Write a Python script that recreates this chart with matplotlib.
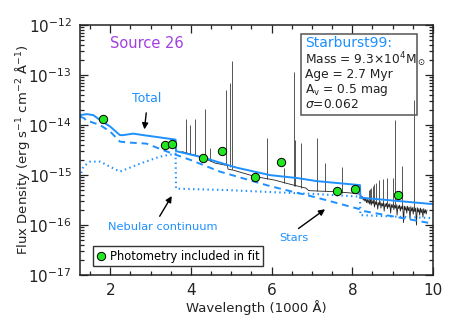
import numpy as np
import matplotlib
matplotlib.use("Agg")
import matplotlib.pyplot as plt
from matplotlib.ticker import FixedLocator, NullFormatter, MultipleLocator
from matplotlib.lines import Line2D
from matplotlib.patches import Rectangle

plt.rcParams['font.family'] = ['DejaVu Sans']
plt.rcParams['mathtext.fontset'] = 'dejavusans'

BLUE = '#1e90ff'
INK = '#222222'

# wavelengths in units of 1000 A, fluxes as log10(erg/s/cm2/A)
total_wl = [1.25, 1.42, 1.58, 1.75, 2.00, 2.24, 2.32, 2.57, 2.82, 3.62, 3.63, 4.31,
            5.13, 5.96, 6.65, 7.12, 8.19, 8.20, 10.0]
total_log = [-13.80, -13.78, -13.80, -13.90, -14.03, -14.20, -14.20, -14.17, -14.20,
             -14.29, -14.52, -14.65, -14.85, -15.00, -15.06, -15.12, -15.20, -15.45, -15.58]

stars_wl = [1.25, 1.35, 1.42, 1.50, 1.75, 2.00, 2.24, 2.49, 2.90, 3.31, 3.65, 4.00,
            4.72, 5.96, 7.12, 8.18, 8.22, 10.0]
stars_log = [-13.83, -13.86, -13.92, -13.93, -14.00, -14.13, -14.33, -14.35, -14.37,
             -14.50, -14.60, -14.70, -14.93, -15.22, -15.45, -15.68, -15.71, -15.97]

neb_wl = [1.25, 1.33, 1.50, 1.75, 1.99, 2.24, 2.74, 3.23, 3.62, 3.63, 4.92, 7.12,
          8.19, 8.20, 10.0]
neb_log = [-15.05, -14.83, -14.73, -14.73, -14.83, -14.93, -14.77, -14.63, -14.57,
           -15.27, -15.30, -15.38, -15.43, -15.80, -15.86]

# observed spectrum: continuum, then the noisy red part
spec_wl = [3.78, 3.95, 4.10, 4.35, 4.60, 4.85, 4.90, 4.92, 5.05, 5.30, 5.60, 6.08,
           6.40, 6.85, 6.92, 7.20, 7.57, 8.00, 8.18,
           8.21, 8.23, 8.25, 8.27, 8.29, 8.31, 8.33, 8.35, 8.37, 8.39, 8.41, 8.43,
           8.45, 8.47, 8.49, 8.51, 8.53, 8.55, 8.57, 8.59, 8.61, 8.63, 8.65, 8.67,
           8.69, 8.71, 8.73, 8.75, 8.77, 8.79, 8.81, 8.83, 8.85, 8.87, 8.89, 8.91,
           8.93, 8.95, 8.97, 8.99, 9.01, 9.03, 9.05, 9.07, 9.09, 9.11, 9.13, 9.15,
           9.17, 9.19, 9.21, 9.23, 9.25, 9.27, 9.29, 9.31, 9.33, 9.35, 9.37, 9.39,
           9.41, 9.43, 9.45, 9.47, 9.49, 9.51, 9.53, 9.55, 9.57, 9.59, 9.61, 9.63,
           9.65, 9.67, 9.69, 9.71, 9.73, 9.75, 9.77, 9.79, 9.81, 9.83, 9.85]
spec_log = [-14.53, -14.57, -14.60, -14.67, -14.76, -14.80, -14.80, -14.88, -14.90,
            -14.96, -15.03, -15.10, -15.17, -15.26, -15.31, -15.32, -15.33, -15.36, -15.38,
            -15.40, -15.46, -15.43, -15.50, -15.45, -15.52, -15.47, -15.55, -15.48, -15.56,
            -15.49, -15.58, -15.50, -15.60, -15.51, -15.57, -15.52, -15.64, -15.53, -15.59,
            -15.54, -15.68, -15.55, -15.60, -15.53, -15.66, -15.56, -15.62, -15.55, -15.72,
            -15.57, -15.63, -15.56, -15.67, -15.58, -15.64, -15.57, -15.76, -15.59, -15.65,
            -15.58, -15.69, -15.60, -15.66, -15.59, -15.80, -15.61, -15.67, -15.60, -15.72,
            -15.62, -15.68, -15.61, -15.95, -15.62, -15.70, -15.63, -15.76, -15.62, -15.71,
            -15.64, -15.88, -15.63, -15.72, -15.65, -15.78, -15.64, -15.73, -15.66, -16.00,
            -15.65, -15.74, -15.67, -15.80, -15.66, -15.75, -15.68, -15.84, -15.67, -15.76,
            -15.69, -15.78, -15.70]

# emission lines: wavelength, base, peak
line_wl = [3.869, 3.889, 3.970, 4.101, 4.340, 4.471, 4.861, 4.959, 5.007, 5.876,
           6.300, 6.563, 6.584, 6.717, 7.136, 7.325, 7.751,
           8.413, 8.438, 8.467, 8.502, 8.545, 8.598, 8.665, 8.750, 8.863, 9.015,
           9.069, 9.229, 9.532]
line_base = [-14.56, -14.56, -14.58, -14.60, -14.67, -14.71, -14.80, -14.84, -14.88,
             -15.07, -15.15, -15.22, -15.22, -15.25, -15.31, -15.32, -15.35,
             -15.50, -15.52, -15.52, -15.53, -15.54, -15.55, -15.56, -15.57, -15.58,
             -15.60, -15.60, -15.62, -15.65]
line_peak = [-13.88, -14.02, -14.00, -13.88, -13.68, -14.46, -13.30, -13.16, -12.72,
             -14.26, -14.86, -12.94, -14.30, -14.36, -14.26, -14.75, -14.84,
             -15.30, -15.28, -15.25, -15.22, -15.17, -15.15, -15.10, -15.07, -15.05,
             -15.05, -13.89, -14.82, -13.49]

phot_wl = [1.82, 3.36, 3.53, 4.31, 4.76, 5.59, 6.23, 7.63, 8.07, 9.13]
phot_log = [-13.88, -14.39, -14.37, -14.65, -14.52, -15.04, -14.74, -15.31, -15.27, -15.40]

f = lambda v: 10.0 ** np.asarray(v)

fig = plt.figure(figsize=(4.57, 3.26), dpi=100)
ax = fig.add_axes([0.175, 0.156, 0.7725, 0.767])

ax.vlines(line_wl, f(line_base), f(line_peak), color='#555555', lw=0.7)
ax.plot(spec_wl, f(spec_log), color=INK, lw=0.6)

ax.plot(total_wl, f(total_log), color=BLUE, lw=1.4)
ax.plot(stars_wl, f(stars_log), color=BLUE, lw=1.4, ls=(0, (3.5, 2.5)))
ax.plot(neb_wl, f(neb_log), color=BLUE, lw=1.5, ls=(0, (0.7, 1.6)))

ax.plot(phot_wl, f(phot_log), 'o', ms=6, mfc='#22e622', mec='black', mew=0.7)

ax.set_xlim(1.25, 10)
ax.set_yscale('log')
ax.set_ylim(1e-17, 1e-12)
ax.xaxis.set_major_locator(MultipleLocator(2))
ax.xaxis.set_minor_locator(MultipleLocator(0.5))
decades = [1e-17, 1e-16, 1e-15, 1e-14, 1e-13, 1e-12]
ax.yaxis.set_major_locator(FixedLocator(decades))
ax.yaxis.set_minor_locator(FixedLocator([m * d for d in decades[:-1] for m in range(2, 10)]))
ax.set_yticklabels(['$10^{-17}$', '$10^{-16}$', '$10^{-15}$', '$10^{-14}$',
                    '$10^{-13}$', '$10^{-12}$'])
ax.yaxis.set_minor_formatter(NullFormatter())
ax.tick_params(which='both', direction='in', top=True, right=True, colors=INK,
               labelsize=11, width=0.9)
ax.tick_params(which='major', length=6, pad=6)
ax.tick_params(which='minor', length=3)
for s in ax.spines.values():
    s.set_linewidth(1.1)
    s.set_color(INK)

ax.set_xlabel('Wavelength (1000 Å)', fontsize=9.5, color=INK, labelpad=1)
ax.set_ylabel('Flux Density (erg s$^{-1}$ cm$^{-2}$ Å$^{-1}$)', fontsize=9.5, color=INK)
ax.yaxis.set_label_coords(-0.135, 0.5)

ax.text(0.189, 0.927, 'Source 26', transform=ax.transAxes, ha='center', va='center',
        fontsize=10.5, color='#a040e0')

# annotations
ax.text(2.91, 10**-13.46, 'Total', ha='center', va='center', fontsize=9, color=BLUE)
ax.annotate('', xy=(2.84, 10**-14.14), xytext=(2.90, 10**-13.70),
            arrowprops=dict(arrowstyle='-|>', color='black', lw=1, mutation_scale=9))
ax.text(3.31, 10**-16.04, 'Nebular continuum', ha='center', va='center', fontsize=8.2,
        color=BLUE)
ax.annotate('', xy=(3.56, 10**-15.37), xytext=(3.19, 10**-15.87),
            arrowprops=dict(arrowstyle='-|>', color='black', lw=1, mutation_scale=9))
ax.text(6.558, 10**-16.25, 'Stars', ha='center', va='center', fontsize=8.2, color=BLUE)
ax.annotate('', xy=(7.38, 10**-15.65), xytext=(6.61, 10**-16.1),
            arrowprops=dict(arrowstyle='-|>', color='black', lw=1, mutation_scale=9))

# model parameter box
ax.add_patch(Rectangle((0.626, 0.64), 0.329, 0.324, transform=ax.transAxes,
                       fill=False, ec='#555555', lw=1.1))
ax.text(0.637, 0.928, 'Starburst99:', transform=ax.transAxes, va='center',
        fontsize=10, color=BLUE)
box_lines = ['Mass = 9.3×10$^4$M$_\\odot$', 'Age = 2.7 Myr',
             'A$_\\mathrm{v}$ = 0.5 mag', '$\\sigma$=0.062']
for i, t in enumerate(box_lines):
    ax.text(0.637, 0.862 - i * 0.06, t, transform=ax.transAxes, va='center',
            fontsize=8.8, color=INK)

handle = Line2D([], [], ls='none', marker='o', ms=6, mfc='#22e622', mec='black', mew=0.7)
leg = ax.legend([handle], ['Photometry included in fit'], loc='lower left',
                bbox_to_anchor=(0.037, 0.036), borderaxespad=0, fontsize=8.3,
                handlelength=0.8, handletextpad=0.4, borderpad=0.3, fancybox=False,
                framealpha=1)
leg.get_frame().set_edgecolor('#333333')
leg.get_frame().set_linewidth(1.0)

fig.savefig('out.png', dpi=100)
